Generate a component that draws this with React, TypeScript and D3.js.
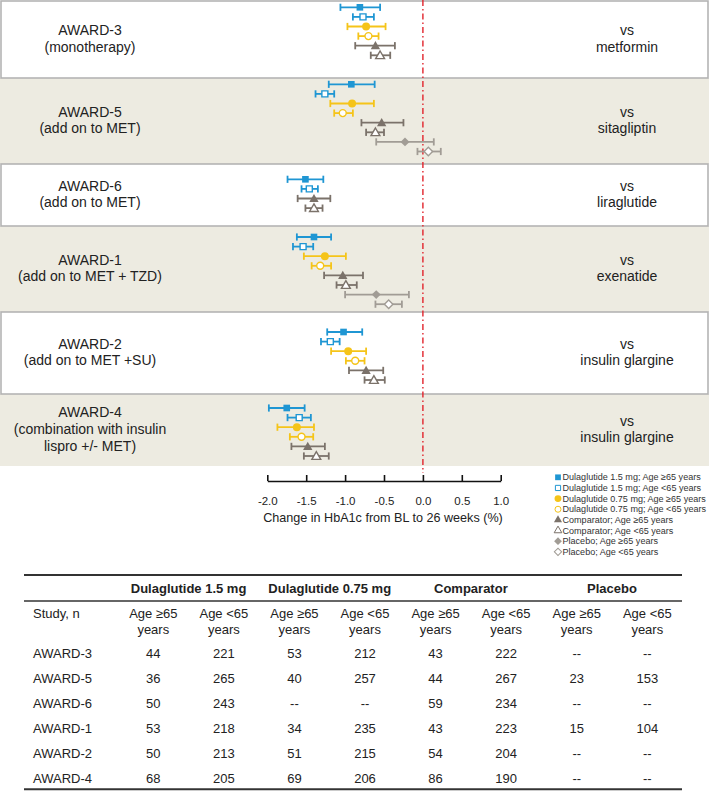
import React, { useEffect, useRef } from "react";
import * as d3 from "d3";

// ---------- data ----------
const studies = ["AWARD-3", "AWARD-5", "AWARD-6", "AWARD-1", "AWARD-2", "AWARD-4"];
const studyDescriptions = [
  ["(monotherapy)"],
  ["(add on to MET)"],
  ["(add on to MET)"],
  ["(add on to MET + TZD)"],
  ["(add on to MET +SU)"],
  ["(combination with insulin", "lispro +/- MET)"],
];
const comparatorNames = ["metformin", "sitagliptin", "liraglutide", "exenatide", "insulin glargine", "insulin glargine"];

const seriesLabels = [
  "Dulaglutide 1.5 mg; Age ≥65 years",
  "Dulaglutide 1.5 mg; Age <65 years",
  "Dulaglutide 0.75 mg; Age ≥65 years",
  "Dulaglutide 0.75 mg; Age <65 years",
  "Comparator; Age ≥65 years",
  "Comparator; Age <65 years",
  "Placebo; Age ≥65 years",
  "Placebo; Age <65 years",
];

// [mean, lower, upper] change in HbA1c (%) per study, in study order
type Est = [number, number, number] | null;
const dula15Ge65: Est[] = [[-0.81, -1.06, -0.55], [-0.92, -1.21, -0.62], [-1.51, -1.74, -1.28], [-1.40, -1.62, -1.18], [-1.02, -1.23, -0.78], [-1.75, -1.98, -1.52]];
const dula15Lt65: Est[] = [[-0.77, -0.90, -0.63], [-1.26, -1.38, -1.14], [-1.46, -1.56, -1.35], [-1.54, -1.67, -1.41], [-1.19, -1.31, -1.07], [-1.59, -1.74, -1.44]];
const dula075Ge65: Est[] = [[-0.73, -0.97, -0.48], [-0.91, -1.19, -0.63], null, [-1.26, -1.53, -0.99], [-0.96, -1.18, -0.73], [-1.62, -1.87, -1.40]];
const dula075Lt65: Est[] = [[-0.70, -0.83, -0.57], [-1.03, -1.14, -0.90], null, [-1.32, -1.43, -1.18], [-0.87, -0.99, -0.75], [-1.56, -1.71, -1.41]];
const compGe65: Est[] = [[-0.61, -0.87, -0.36], [-0.53, -0.79, -0.25], [-1.40, -1.61, -1.19], [-1.03, -1.27, -0.77], [-0.73, -0.95, -0.51], [-1.48, -1.69, -1.26]];
const compLt65: Est[] = [[-0.55, -0.67, -0.42], [-0.61, -0.73, -0.50], [-1.40, -1.51, -1.29], [-0.99, -1.11, -0.85], [-0.63, -0.75, -0.49], [-1.37, -1.53, -1.21]];
const placeboGe65: Est[] = [null, [-0.23, -0.60, 0.14], null, [-0.60, -1.00, -0.18], null, null];
const placeboLt65: Est[] = [null, [0.07, -0.07, 0.23], null, [-0.44, -0.61, -0.27], null, null];
const seriesValues = [dula15Ge65, dula15Lt65, dula075Ge65, dula075Lt65, compGe65, compLt65, placeboGe65, placeboLt65];

const axisTicks = [-2.0, -1.5, -1.0, -0.5, 0.0, 0.5, 1.0];
const axisTitle = "Change in HbA1c from BL to 26 weeks (%)";

// table
const tableGroups = ["Dulaglutide 1.5 mg", "Dulaglutide 0.75 mg", "Comparator", "Placebo"];
const tableSubheads = ["Age ≥65", "Age <65"];
const tableStudyHeader = "Study, n";
const tableStudies = ["AWARD-3", "AWARD-5", "AWARD-6", "AWARD-1", "AWARD-2", "AWARD-4"];
const nAward3 = ["44", "221", "53", "212", "43", "222", "--", "--"];
const nAward5 = ["36", "265", "40", "257", "44", "267", "23", "153"];
const nAward6 = ["50", "243", "--", "--", "59", "234", "--", "--"];
const nAward1 = ["53", "218", "34", "235", "43", "223", "15", "104"];
const nAward2 = ["50", "213", "51", "215", "54", "204", "--", "--"];
const nAward4 = ["68", "205", "69", "206", "86", "190", "--", "--"];
const tableCounts = [nAward3, nAward5, nAward6, nAward1, nAward2, nAward4];

// ---------- styles / layout ----------
const FONT = "'Liberation Sans', Arial, Helvetica, sans-serif";
const BLUE = "#1f96d3";
const YELLOW = "#f5c419";
const COMP = "#7b726a";
const PLAC = "#a19c95";
const BEIGE = "#edebe1";
const BORDER = "#b4b4b4";
const TEXT = "#222";

const seriesStyle = [
  { color: BLUE, filled: true, shape: d3.symbolSquare, size: 44, rot: 0 },
  { color: BLUE, filled: false, shape: d3.symbolSquare, size: 36, rot: 0 },
  { color: YELLOW, filled: true, shape: d3.symbolCircle, size: 50, rot: 0 },
  { color: YELLOW, filled: false, shape: d3.symbolCircle, size: 38, rot: 0 },
  { color: COMP, filled: true, shape: d3.symbolTriangle, size: 38, rot: 0 },
  { color: COMP, filled: false, shape: d3.symbolTriangle, size: 34, rot: 0 },
  { color: PLAC, filled: true, shape: d3.symbolSquare, size: 40, rot: 45 },
  { color: PLAC, filled: false, shape: d3.symbolSquare, size: 36, rot: 45 },
];

const panelBounds = [[1, 78], [78, 164], [164, 226], [226, 312], [312, 394], [394, 466]];
const rowStart = [7.3, 84.3, 179.3, 237, 332, 408];
const ROW_STEP = 9.6;

const W = 709;
const H = 791;

export default function App() {
  const axisRef = useRef<SVGGElement>(null);
  const x = d3.scaleLinear().domain([-2, 1]).range([267.3, 500.7]);

  useEffect(() => {
    if (!axisRef.current) return;
    const g = d3.select(axisRef.current);
    g.selectAll("*").remove();
    const axis = d3
      .axisBottom(x)
      .tickValues(axisTicks)
      .tickFormat((d: any) => (+d).toFixed(1))
      .tickSizeInner(-6)
      .tickSizeOuter(0)
      .tickPadding(16);
    g.call(axis as any);
    g.select(".domain").attr("stroke", "#111").attr("stroke-width", 1.6);
    g.selectAll(".tick line").attr("stroke", "#111").attr("stroke-width", 1.6);
    g.selectAll(".tick text")
      .attr("fill", TEXT)
      .style("font-family", FONT)
      .style("font-size", "11.5px");
  }, []);

  const panels = studies.map((s, i) => {
    const [top, bottom] = panelBounds[i];
    const white = i % 2 === 0;
    return { i, top, bottom, white };
  });

  const tableCol = d3.scaleLinear().domain([0, 7]).range([153.3, 647.3]);
  const groupCenter = (gi: number) => (tableCol(gi * 2) + tableCol(gi * 2 + 1)) / 2;
  const rowY = (ri: number) => 653.7 + ri * 24.9;

  return (
    <svg
      width={W}
      height={H}
      style={{ position: "absolute", left: 0, top: 0, background: "#fff" }}
      fontFamily={FONT}
    >
      {/* panels: beige first, white with borders on top */}
      {panels
        .filter((p) => !p.white)
        .map((p) => (
          <rect key={"b" + p.i} x={0} y={p.top} width={W} height={p.bottom - p.top} fill={BEIGE} />
        ))}
      {panels
        .filter((p) => p.white)
        .map((p) => (
          <rect
            key={"w" + p.i}
            x={1}
            y={p.top}
            width={W - 2}
            height={p.bottom - p.top}
            fill="#fff"
            stroke={BORDER}
            strokeWidth={1.6}
          />
        ))}

      {/* reference line at 0 */}
      <line
        x1={x(0)}
        x2={x(0)}
        y1={0}
        y2={473}
        stroke="#e2242c"
        strokeWidth={1.4}
        strokeDasharray="6 3 1.5 3"
      />

      {/* panel labels */}
      {panels.map((p) => {
        const lines = [studies[p.i], ...studyDescriptions[p.i]];
        const mid = (p.top + p.bottom) / 2 - 1;
        const lh = 16.7;
        const y0 = mid - ((lines.length - 1) * lh) / 2;
        const right = ["vs", comparatorNames[p.i]];
        const ry0 = mid - lh / 2;
        return (
          <g key={"lab" + p.i} fill={TEXT} fontSize={14}>
            {lines.map((t, k) => (
              <text key={k} x={90} y={y0 + k * lh} textAnchor="middle" dominantBaseline="central">
                {t}
              </text>
            ))}
            {right.map((t, k) => (
              <text key={"r" + k} x={627} y={ry0 + k * lh} textAnchor="middle" dominantBaseline="central">
                {t}
              </text>
            ))}
          </g>
        );
      })}

      {/* error bars and markers */}
      {panels.map((p) => {
        let r = 0;
        const items: any[] = [];
        seriesValues.forEach((vals, si) => {
          const v = vals[p.i];
          if (!v) return;
          const y = rowStart[p.i] + r * ROW_STEP;
          r++;
          const st = seriesStyle[si];
          const [m, lo, hi] = v;
          const sym = d3.symbol().type(st.shape).size(st.size)() || "";
          items.push(
            <g key={si}>
              <line x1={x(lo)} x2={x(hi)} y1={y} y2={y} stroke={st.color} strokeWidth={1.8} />
              <line x1={x(lo)} x2={x(lo)} y1={y - 3.6} y2={y + 3.6} stroke={st.color} strokeWidth={1.8} />
              <line x1={x(hi)} x2={x(hi)} y1={y - 3.6} y2={y + 3.6} stroke={st.color} strokeWidth={1.8} />
              <path
                d={sym}
                transform={`translate(${x(m)},${y + (st.shape === d3.symbolTriangle ? 0.8 : 0)}) rotate(${st.rot})`}
                fill={st.filled ? st.color : "#fff"}
                stroke={st.color}
                strokeWidth={st.filled ? 0 : 1.4}
              />
            </g>
          );
        });
        return <g key={"pts" + p.i}>{items}</g>;
      })}

      {/* x axis */}
      <g ref={axisRef} transform="translate(0,481)" />
      <text x={383} y={518} textAnchor="middle" dominantBaseline="central" fontSize={12.6} fill={TEXT}>
        {axisTitle}
      </text>

      {/* legend */}
      {seriesLabels.map((lab, i) => {
        const st = seriesStyle[i];
        const y = 477.3 + i * 10.65;
        const sym = d3.symbol().type(st.shape).size(st.size * 0.75)() || "";
        return (
          <g key={"leg" + i}>
            <path
              d={sym}
              transform={`translate(558,${y}) rotate(${st.rot})`}
              fill={st.filled ? st.color : "#fff"}
              stroke={st.color}
              strokeWidth={st.filled ? 0 : 1}
            />
            <text x={562.5} y={y} dominantBaseline="central" fontSize={9.05} fill="#333">
              {lab}
            </text>
          </g>
        );
      })}

      {/* table */}
      <g fill={TEXT} fontSize={13}>
        <line x1={24} x2={682} y1={575} y2={575} stroke="#333" strokeWidth={2} />
        <line x1={24} x2={682} y1={601} y2={601} stroke="#333" strokeWidth={1.3} />
        <line x1={24} x2={682} y1={789.3} y2={789.3} stroke="#333" strokeWidth={2} />
        {tableGroups.map((g, gi) => (
          <text key={"g" + gi} x={groupCenter(gi)} y={588.3} textAnchor="middle" dominantBaseline="central" fontWeight="bold">
            {g}
          </text>
        ))}
        <text x={33} y={613.3} dominantBaseline="central">
          {tableStudyHeader}
        </text>
        {d3.range(8).map((c) => (
          <g key={"sh" + c}>
            <text x={tableCol(c)} y={613.3} textAnchor="middle" dominantBaseline="central">
              {tableSubheads[c % 2]}
            </text>
            <text x={tableCol(c)} y={629} textAnchor="middle" dominantBaseline="central">
              years
            </text>
          </g>
        ))}
        {tableStudies.map((s, ri) => (
          <g key={"row" + ri}>
            <text x={33} y={rowY(ri)} dominantBaseline="central">
              {s}
            </text>
            {tableCounts[ri].map((n, c) => (
              <text key={c} x={tableCol(c)} y={rowY(ri)} textAnchor="middle" dominantBaseline="central">
                {n}
              </text>
            ))}
          </g>
        ))}
      </g>
    </svg>
  );
}
